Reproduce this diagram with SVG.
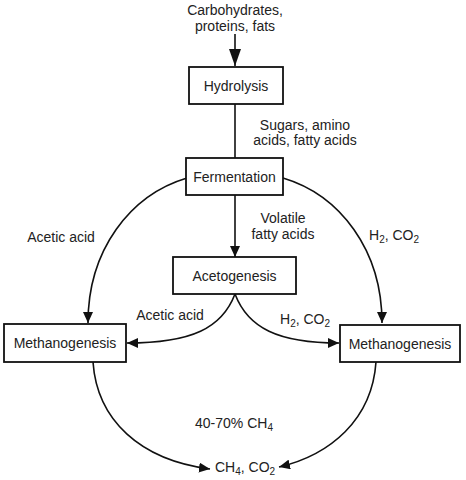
<svg xmlns="http://www.w3.org/2000/svg" width="466" height="480" viewBox="0 0 466 480">
<style>
text{font-family:"Liberation Sans",Arial,sans-serif;font-size:14px;fill:#222}
.c{text-anchor:middle}
.box{fill:#fff;stroke:#111;stroke-width:1.8}
.ln{fill:none;stroke:#111;stroke-width:1.6}
.sub{font-size:10px}
</style>
<defs>
<marker id="ah" markerUnits="userSpaceOnUse" markerWidth="12" markerHeight="10" refX="11" refY="5" orient="auto"><path d="M0,0 L11,5 L0,10 Z" fill="#111"/></marker>
<marker id="big" markerUnits="userSpaceOnUse" markerWidth="18" markerHeight="14" refX="17" refY="6" orient="auto"><path d="M0,0 L17,6 L0,12 Z" fill="#111"/></marker>
</defs>
<g id="connectors">
<path class="ln" d="M235,34 V66" marker-end="url(#big)"/>
<path class="ln" d="M235,104 V158"/>
<path class="ln" d="M235,195 V257" marker-end="url(#ah)"/>
<path class="ln" d="M187,178 C130,195 88,250 88,323" marker-end="url(#ah)"/>
<path class="ln" d="M283,178 C340,195 382,250 382,323" marker-end="url(#ah)"/>
<path class="ln" d="M235,294 C222,328 192,343 127,343" marker-end="url(#ah)"/>
<path class="ln" d="M235,294 C248,328 278,343 339,343" marker-end="url(#ah)"/>
<path class="ln" d="M93,362 C97,420 140,460 210,469" marker-end="url(#ah)"/>
<path class="ln" d="M376,362 C372,420 330,455 279,467" marker-end="url(#ah)"/>
</g>
<g id="labels">
<text class="c" x="235" y="15">Carbohydrates,</text>
<text class="c" x="235" y="31">proteins, fats</text>
<text class="c" x="305" y="130">Sugars, amino</text>
<text class="c" x="305" y="145">acids, fatty acids</text>
<text class="c" x="283" y="223">Volatile</text>
<text class="c" x="283" y="239">fatty acids</text>
<text class="c" x="61" y="242">Acetic acid</text>
<text x="369" y="240">H<tspan class="sub" dy="3">2</tspan><tspan dy="-3">, CO</tspan><tspan class="sub" dy="3">2</tspan></text>
<text class="c" x="170" y="320">Acetic acid</text>
<text x="280" y="324">H<tspan class="sub" dy="3">2</tspan><tspan dy="-3">, CO</tspan><tspan class="sub" dy="3">2</tspan></text>
<text x="195" y="428">40-70% CH<tspan class="sub" dy="3">4</tspan></text>
<text x="215" y="472">CH<tspan class="sub" dy="3">4</tspan><tspan dy="-3">, CO</tspan><tspan class="sub" dy="3">2</tspan></text>
</g>
<g id="hydrolysis"><rect class="box" x="189" y="67" width="94" height="37"/><text class="c" x="236" y="90.5">Hydrolysis</text></g>
<g id="fermentation"><rect class="box" x="186" y="158" width="97" height="37"/><text class="c" x="234.5" y="181.5">Fermentation</text></g>
<g id="acetogenesis"><rect class="box" x="173" y="257" width="123" height="37"/><text class="c" x="234.5" y="280.5">Acetogenesis</text></g>
<g id="methanogenesis-left"><rect class="box" x="4" y="324" width="122" height="38"/><text class="c" x="65" y="348">Methanogenesis</text></g>
<g id="methanogenesis-right"><rect class="box" x="340" y="325" width="120" height="37"/><text class="c" x="400" y="348.5">Methanogenesis</text></g>
</svg>
